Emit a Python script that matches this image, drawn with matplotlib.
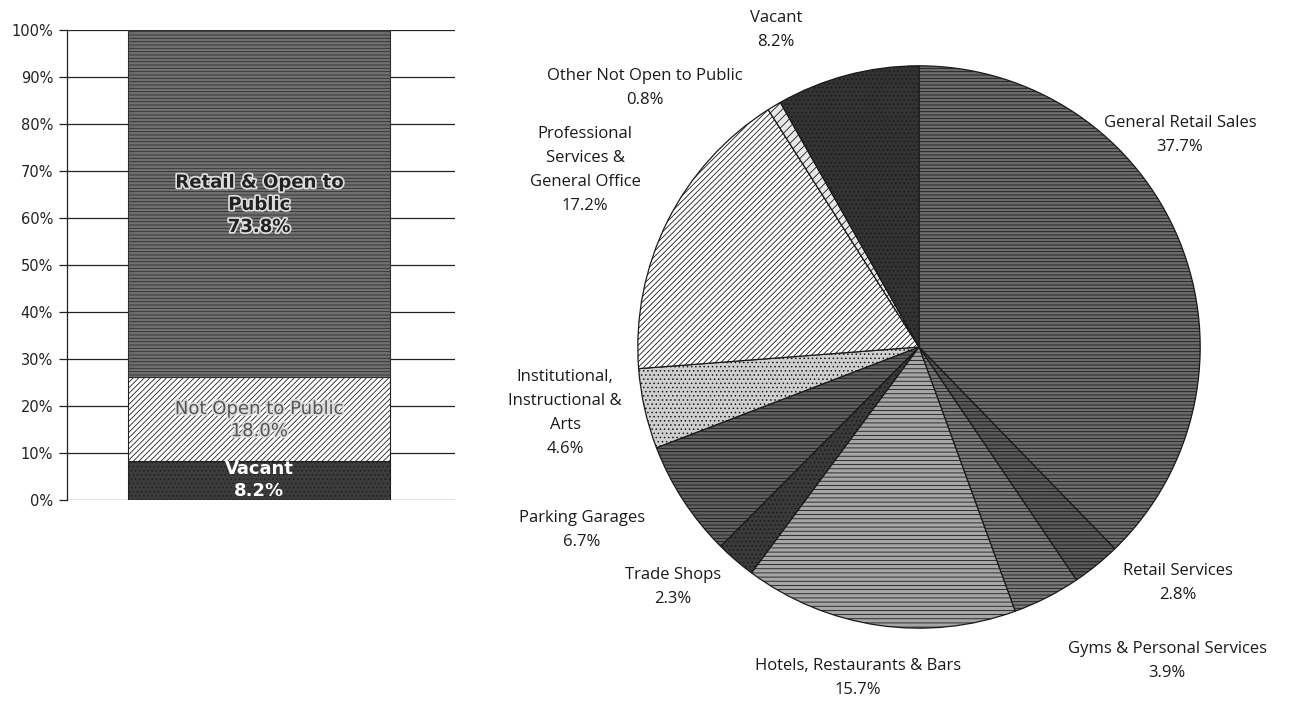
import matplotlib
matplotlib.use("Agg")
import matplotlib.pyplot as plt
import matplotlib.patheffects as pe

# ---------------- data ----------------
bar_categories = ["Vacant", "Not Open to Public", "Retail & Open to Public"]
bar_values = [8.2, 18.0, 73.8]
bar_labels = ["Vacant\n8.2%", "Not Open to Public\n18.0%", "Retail & Open to\nPublic\n73.8%"]

pie_categories = ["General Retail Sales", "Retail Services", "Gyms & Personal Services",
                  "Hotels, Restaurants & Bars", "Trade Shops", "Parking Garages",
                  "Institutional,\nInstructional &\nArts", "Professional\nServices &\nGeneral Office",
                  "Other Not Open to Public", "Vacant"]
pie_values = [37.7, 2.8, 3.9, 15.7, 2.3, 6.7, 4.6, 17.2, 0.8, 8.2]

y_ticks = [0, 10, 20, 30, 40, 50, 60, 70, 80, 90, 100]
y_tick_labels = ["0%", "10%", "20%", "30%", "40%", "50%", "60%", "70%", "80%", "90%", "100%"]

# ---------------- styles ----------------
W, H = 1299, 719
fig = plt.figure(figsize=(W / 100, H / 100), dpi=100)
fig.patch.set_facecolor("white")
plt.rcParams["hatch.linewidth"] = 0.6

def px(x0, y0, x1, y1):
    return [x0 / W, 1 - y1 / H, (x1 - x0) / W, (y1 - y0) / H]

# ---------------- left stacked bar ----------------
ax1 = fig.add_axes(px(67, 30, 455, 500))
bar_faces = ["#3c3c3c", "white", "#707070"]
bar_hatches = ["....", "//////", "-----"]
bar_edges = ["#202020", "#202020", "#303030"]
bottom = 0
for val, fc, hc, ec in zip(bar_values, bar_faces, bar_hatches, bar_edges):
    ax1.bar(-0.005, val, width=0.675, bottom=bottom, color=fc, hatch=hc,
            edgecolor=ec, linewidth=0.8, zorder=3)
    bottom += val

ax1.set_xlim(-0.5, 0.5)
ax1.set_ylim(0, 100)
ax1.set_yticks(y_ticks)
ax1.set_yticklabels(y_tick_labels, fontsize=10.5, color="#222222", family="DejaVu Sans")
ax1.set_xticks([])
ax1.grid(axis="y", color="#222222", linewidth=0.9, zorder=0)
ax1.tick_params(axis="y", length=6, width=0.9, color="#222222", pad=4)
for s in ["top", "right", "bottom"]:
    ax1.spines[s].set_visible(False)
ax1.spines["left"].set_color("#222222")
ax1.spines["left"].set_linewidth(0.9)

# labels inside the bar
bottom = 0
txt_colors = ["white", "#555555", "#222222"]
txt_weights = ["bold", "normal", "bold"]
txt_ypos = [4.3, 17.0, 62.8]
for val, lab, col, w, yc in zip(bar_values, bar_labels, txt_colors, txt_weights, txt_ypos):
    t = ax1.text(-0.005, yc, lab, ha="center", va="center", color=col, fontsize=13,
                 fontweight=w, family="DejaVu Sans", linespacing=1.3, zorder=5)
    if col != "white":
        t.set_path_effects([pe.withStroke(linewidth=2.5, foreground="#dddddd")])
    bottom += val

# ---------------- pie ----------------
cx, cy, R = 919, 347, 284
ax2 = fig.add_axes(px(cx - R, cy - R, cx + R, cy + R))
pie_faces = ["#6c6c6c", "#5a5a5a", "#7a7a7a", "#a6a6a6", "#3a3a3a",
             "#606060", "#cfcfcf", "white", "#e8e8e8", "#333333"]
pie_hatches = ["-----", "-----", "-----", "----", "....", "-----",
               "....", "//////", "////", "...."]
wedges, _ = ax2.pie(pie_values, startangle=90, counterclock=False, radius=1,
                    colors=pie_faces,
                    wedgeprops=dict(edgecolor="#1a1a1a", linewidth=0.9))
for w, h in zip(wedges, pie_hatches):
    w.set_hatch(h)
ax2.set_xlim(-1.01, 1.01)
ax2.set_ylim(-1.01, 1.01)
ax2.set_aspect("equal")
ax2.axis("off")

# pie labels (pixel positions of label centres)
label_pos = [(1180, 135), (1178, 583), (1167, 661), (858, 678), (673, 587),
             (582, 530), (565, 413), (585, 170), (645, 88), (776, 30)]
for cat, val, (lx, ly) in zip(pie_categories, pie_values, label_pos):
    fig.text(lx / W, 1 - ly / H, f"{cat}\n{val:.1f}%", ha="center", va="center",
             fontsize=12, color="#1a1a1a", family="Open Sans", linespacing=1.65)

fig.savefig("out.png", dpi=100, facecolor="white")
